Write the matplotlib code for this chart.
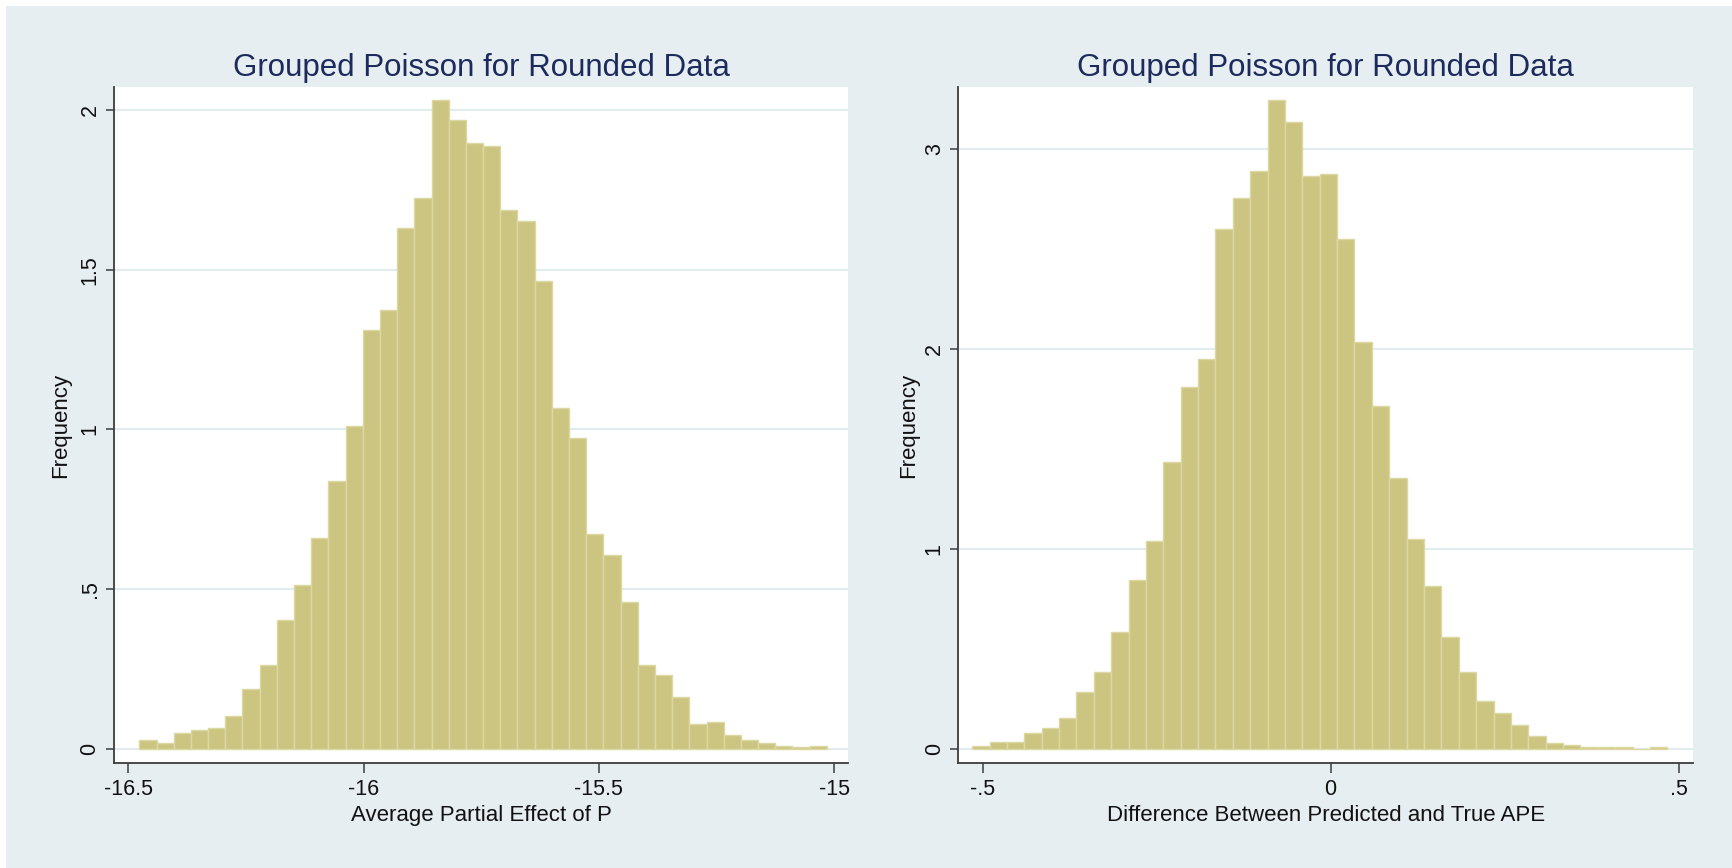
import numpy as np
import matplotlib.pyplot as plt
from matplotlib.patches import Rectangle

plt.rcParams['font.family'] = ['Liberation Sans', 'DejaVu Sans']

# 左图：平均偏效应的直方图（密度）
left_start = -16.4766
left_width = 0.03653
left_heights = [0.029, 0.020, 0.050, 0.061, 0.066, 0.102, 0.187, 0.264, 0.403, 0.513,
                0.661, 0.840, 1.010, 1.311, 1.375, 1.630, 1.725, 2.032, 1.968, 1.897,
                1.888, 1.687, 1.653, 1.465, 1.066, 0.973, 0.672, 0.608, 0.461, 0.264,
                0.233, 0.164, 0.078, 0.085, 0.043, 0.029, 0.018, 0.010, 0.006, 0.010]
left_xticks = [-16.5, -16, -15.5, -15]
left_xlabels = ['-16.5', '-16', '-15.5', '-15']
left_yticks = [0, 0.5, 1, 1.5, 2]
left_ylabels = ['0', '.5', '1', '1.5', '2']

# 右图：预测值与真实APE之差
right_start = -0.5148
right_width = 0.02496
right_heights = [0.016, 0.034, 0.034, 0.080, 0.105, 0.154, 0.284, 0.384, 0.583, 0.844,
                 1.039, 1.434, 1.811, 1.952, 2.600, 2.756, 2.890, 3.248, 3.134, 2.864,
                 2.877, 2.553, 2.037, 1.718, 1.358, 1.048, 0.815, 0.561, 0.384, 0.239,
                 0.181, 0.121, 0.065, 0.029, 0.020, 0.009, 0.009, 0.009, 0.0, 0.011]
right_xticks = [-0.5, 0, 0.5]
right_xlabels = ['-.5', '0', '.5']
right_yticks = [0, 1, 2, 3]
right_ylabels = ['0', '1', '2', '3']

title = 'Grouped Poisson for Rounded Data'
bg = '#e7eef1'
bar_color = '#ccc581'
bar_edge = '#dcd8a3'
axis_color = '#3c3c3c'
grid_color = '#e2ebee'
title_color = '#1c2a5c'

W, H = 1732, 868
fig = plt.figure(figsize=(W / 100, H / 100), dpi=100, facecolor='white')
fig.patches.append(Rectangle((6 / W, 0), 1, 1 - 5.5 / H, transform=fig.transFigure,
                             facecolor=bg, edgecolor='none', zorder=-10))

ax1 = fig.add_axes([114 / W, 1 - 763 / H, (848.3 - 114) / W, (763 - 87.3) / H])
ax2 = fig.add_axes([958.3 / W, 1 - 763 / H, (1693.3 - 958.3) / W, (763 - 87.3) / H])


def draw_hist(ax, start, width, heights, xticks, xlabels, yticks, ylabels,
              xlim, ylim, xlabel, ylab_x):
    edges = start + width * np.arange(len(heights))
    ax.bar(edges, heights, width=width, align='edge', color=bar_color,
           edgecolor=bar_edge, linewidth=1.0, zorder=2)
    ax.set_xlim(*xlim)
    ax.set_ylim(*ylim)
    ax.set_facecolor('white')
    for s in ['top', 'right']:
        ax.spines[s].set_visible(False)
    for s in ['left', 'bottom']:
        ax.spines[s].set_color(axis_color)
        ax.spines[s].set_linewidth(1.3)
    ax.set_xticks(xticks)
    ax.set_xticklabels(xlabels)
    ax.set_yticks(yticks)
    ax.set_yticklabels(ylabels, rotation=90, va='center')
    ax.tick_params(axis='x', length=7.2, width=1.1, color=axis_color,
                   labelsize=15.5, pad=4.3, labelcolor='#111111')
    ax.tick_params(axis='y', length=5.8, width=1.1, color=axis_color,
                   labelsize=15.5, pad=3.9, labelcolor='#111111')
    ax.set_axisbelow(True)
    ax.yaxis.grid(True, color=grid_color, linewidth=1.5)
    ax.set_xlabel(xlabel, fontsize=16, color='#111111', va='baseline')
    ax.xaxis.set_label_coords(0.5, -58 / 675.7)
    ax.set_ylabel('Frequency', fontsize=16, color='#111111', va='center')
    ax.yaxis.set_label_coords(ylab_x, 0.5)
    bb = ax.get_position()
    fig.text(bb.x0 + bb.width / 2, 1 - 76 / H, title, ha='center', va='baseline',
             fontsize=22.5, color=title_color)


draw_hist(ax1, left_start, left_width, left_heights, left_xticks, left_xlabels,
          left_yticks, left_ylabels, (-16.5304, -14.9698), (-0.0438, 2.071),
          'Average Partial Effect of P', -53 / 734.3)
draw_hist(ax2, right_start, right_width, right_heights, right_xticks, right_xlabels,
          right_yticks, right_ylabels, (-0.5348, 0.521), (-0.07, 3.31),
          'Difference Between Predicted and True APE', -50 / 735)

fig.savefig('out.png', dpi=100, facecolor=fig.get_facecolor())
